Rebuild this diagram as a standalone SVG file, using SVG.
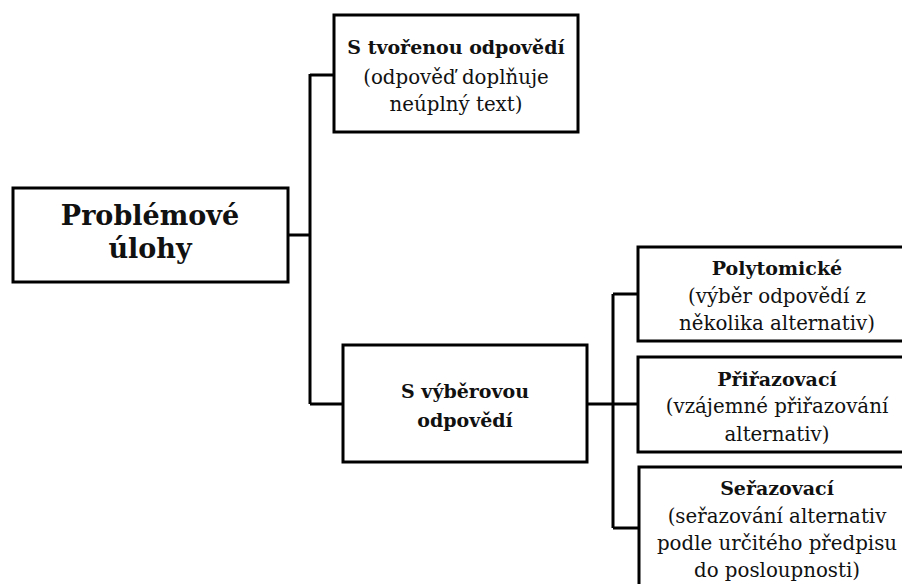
<svg xmlns="http://www.w3.org/2000/svg" width="902" height="584" viewBox="0 0 902 584">
  <style>
    .box { fill: #fff; stroke: #000; stroke-width: 3; }
    .wire { fill: none; stroke: #000; stroke-width: 3; }
    text { font-family: "DejaVu Serif", "Liberation Serif", serif; fill: #111; text-anchor: middle; }
    .b { font-weight: bold; font-size: 19px; }
    .r { font-size: 19.8px; }
    .big { font-weight: bold; font-size: 27px; }
  </style>
  <rect width="902" height="584" fill="#fff"/>

  <g id="connectors">
    <path class="wire" d="M288 235 H310 M310 74 V404 M310 75 H334 M310 404 H343"/>
    <path class="wire" d="M587 404 H638 M613 294 V528 M613 294 H638 M613 528 H639"/>
  </g>

  <g id="root">
    <rect class="box" x="13" y="188" width="275" height="94"/>
    <text class="big" x="150" y="225">Problémové</text>
    <text class="big" x="150" y="258">úlohy</text>
  </g>

  <g id="constructed">
    <rect class="box" x="334" y="15" width="244" height="117"/>
    <text class="b" x="456" y="54">S tvořenou odpovědí</text>
    <text class="r" x="456" y="84">(odpověď doplňuje</text>
    <text class="r" x="456" y="111">neúplný text)</text>
  </g>

  <g id="selected">
    <rect class="box" x="343" y="345" width="244" height="117"/>
    <text class="b" x="465" y="398">S výběrovou</text>
    <text class="b" x="465" y="427">odpovědí</text>
  </g>

  <g id="polytomic">
    <rect class="box" x="638" y="247" width="280" height="94"/>
    <text class="b" x="777" y="275">Polytomické</text>
    <text class="r" x="777" y="303">(výběr odpovědí z</text>
    <text class="r" x="777" y="330">několika alternativ)</text>
  </g>

  <g id="matching">
    <rect class="box" x="638" y="357" width="280" height="95"/>
    <text class="b" x="777" y="386">Přiřazovací</text>
    <text class="r" x="777" y="413">(vzájemné přiřazování</text>
    <text class="r" x="777" y="441">alternativ)</text>
  </g>

  <g id="ordering">
    <rect class="box" x="639" y="467" width="280" height="130"/>
    <text class="b" x="777" y="495">Seřazovací</text>
    <text class="r" x="777" y="523">(seřazování alternativ</text>
    <text class="r" x="777" y="550">podle určitého předpisu</text>
    <text class="r" x="777" y="577">do posloupnosti)</text>
  </g>
</svg>
